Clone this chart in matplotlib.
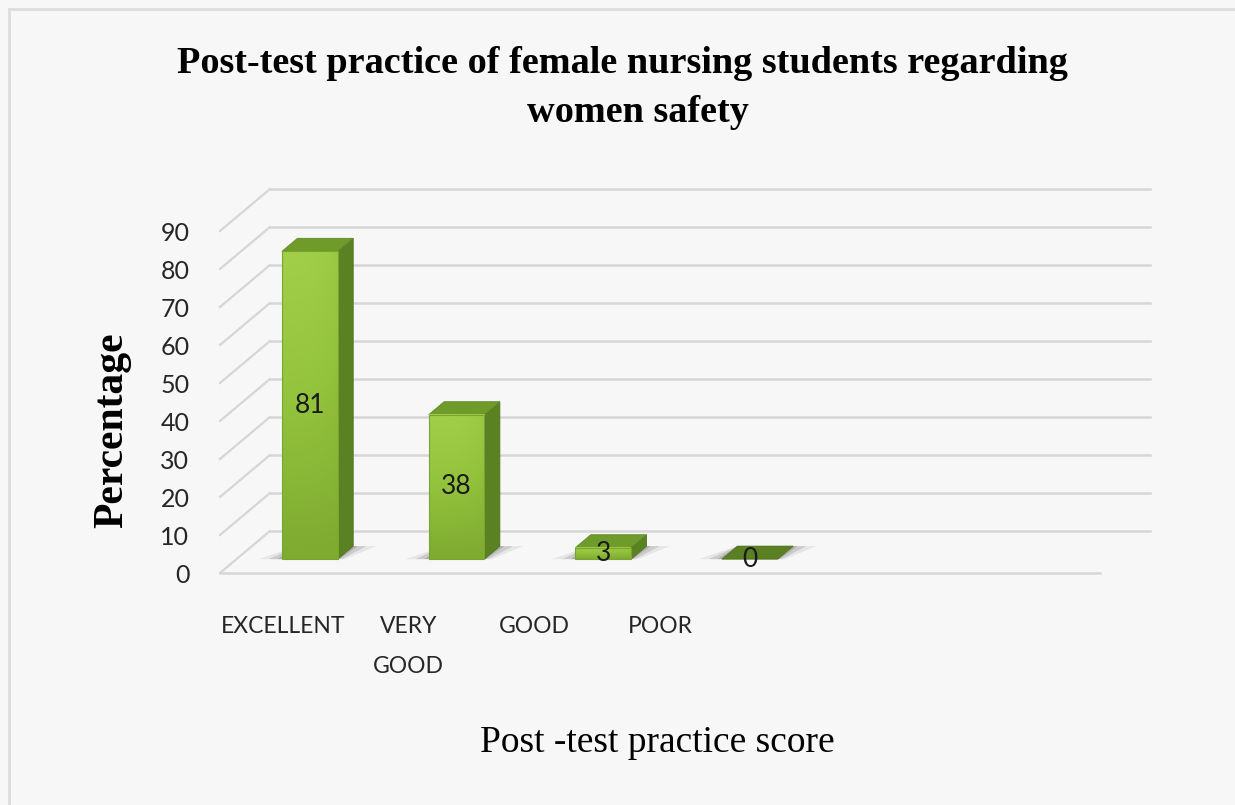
import numpy as np
import matplotlib
matplotlib.use("Agg")
import matplotlib.pyplot as plt
from matplotlib.patches import Polygon, Rectangle
from matplotlib.lines import Line2D
from matplotlib.colors import LinearSegmentedColormap

# chart data
categories = ["EXCELLENT", "VERY\nGOOD", "GOOD", "POOR"]
percentages = [81, 38, 3, 0]
y_ticks = list(range(0, 100, 10))

title_lines = ["Post-test practice of female nursing students regarding", "women safety"]
x_title = "Post -test practice score"
y_title = "Percentage"

# layout (pixels of the 1235x805 picture)
W, H = 1235, 805
FLOOR_L, FLOOR_R, FLOOR_Y = 220, 1100, 573
PX_PER_PCT = 3.8
DEPTH_DX, DEPTH_DY = 50, 42
N_SLOTS = 6          # bar slots across the floor
N_LABEL_SLOTS = 7    # category label slots (as in the source chart)
BAR_W = 0.38
Z_FRONT, Z_BACK = 0.33, 0.64

SLOT_PX = (FLOOR_R - FLOOR_L) / N_SLOTS
ZX = DEPTH_DX / SLOT_PX
ZY = DEPTH_DY / PX_PER_PCT


def proj(x, v, z):
    return (x + z * ZX, v + z * ZY)


SANS = ["Liberation Sans Narrow", "Lato", "DejaVu Sans"]
SERIF = ["Liberation Serif", "DejaVu Serif"]

fig = plt.figure(figsize=(W / 100, H / 100), dpi=100)
fig.patch.set_facecolor("#f7f7f7")
# outer frame (only top and left edges are visible in the source)
fig.lines.append(Line2D([9 / W, 9 / W], [0, 1 - 9 / H], transform=fig.transFigure,
                        color="#dddddd", lw=2))
fig.lines.append(Line2D([9 / W, 1], [1 - 9 / H, 1 - 9 / H], transform=fig.transFigure,
                        color="#dddddd", lw=2))

xmax = N_SLOTS + ZX + 0.02
ymax = max(y_ticks) + ZY + 1
ax = fig.add_axes([FLOOR_L / W, (H - FLOOR_Y) / H, xmax * SLOT_PX / W, ymax * PX_PER_PCT / H])
ax.set_xlim(0, xmax)
ax.set_ylim(0, ymax)
ax.patch.set_alpha(0)
for s in ax.spines.values():
    s.set_visible(False)

# back wall and side wall grid
grid_c = "#d6d6d6"
for v in y_ticks:
    p0, p1 = proj(0, v, 1), proj(N_SLOTS, v, 1)
    ax.plot([p0[0], p1[0]], [p0[1], p1[1]], color=grid_c, lw=1.8, zorder=1, clip_on=False)
    q0, q1 = proj(0, v, 0), proj(0, v, 1)
    ax.plot([q0[0], q1[0]], [q0[1], q1[1]], color=grid_c, lw=1.6, zorder=1, clip_on=False)
f0, f1 = proj(0, 0, 0), proj(N_SLOTS, 0, 0)
ax.plot([f0[0], f1[0]], [f0[1], f1[1]], color=grid_c, lw=1.8, zorder=1, clip_on=False)

front_cmap = LinearSegmentedColormap.from_list("front", ["#7eab30", "#93c23d", "#a2cf4a"])

for i, (cat, val) in enumerate(zip(categories, percentages)):
    x0 = i + 0.5 - BAR_W / 2
    x1 = x0 + BAR_W
    zo = 3 + i

    # soft floor shadow
    for grow, alpha in [(0.16, 0.10), (0.09, 0.18), (0.03, 0.25)]:
        shadow = [proj(x0 - grow, 0, Z_FRONT), proj(x1 + grow * 0.3, 0, Z_FRONT),
                  proj(x1 + grow, 0, Z_BACK), proj(x0, 0, Z_BACK)]
        ax.add_patch(Polygon(shadow, closed=True, facecolor="#555555", edgecolor="none",
                             alpha=alpha, zorder=2, clip_on=False))

    if val > 0:
        # right side face
        side = [proj(x1, 0, Z_FRONT), proj(x1, 0, Z_BACK), proj(x1, val, Z_BACK), proj(x1, val, Z_FRONT)]
        ax.add_patch(Polygon(side, closed=True, facecolor="#5a8122", edgecolor="#4f731d",
                             lw=0.6, zorder=zo, clip_on=False))
        # top face
        top = [proj(x0, val, Z_FRONT), proj(x1, val, Z_FRONT), proj(x1, val, Z_BACK), proj(x0, val, Z_BACK)]
        ax.add_patch(Polygon(top, closed=True, facecolor="#6f9b2b", edgecolor="#62892a",
                             lw=0.6, zorder=zo, clip_on=False))
        # front face with gradient
        fx0, fy0 = proj(x0, 0, Z_FRONT)
        fx1, fy1 = proj(x1, val, Z_FRONT)
        grad = np.linspace(0, 1, 64)[:, None] * np.ones((1, 16))
        grad = grad * (1 - 0.25 * np.linspace(0, 1, 16)[None, :] ** 3)
        ax.imshow(grad, extent=[fx0, fx1, fy0, fy1], origin="lower", cmap=front_cmap,
                  vmin=0, vmax=1, aspect="auto", zorder=zo + 0.1, interpolation="bilinear")
        ax.add_patch(Rectangle((fx0, fy0), fx1 - fx0, fy1 - fy0, facecolor="none",
                               edgecolor="#79a431", lw=0.8, zorder=zo + 0.2))
    else:
        top = [proj(x0, 0, Z_FRONT), proj(x1, 0, Z_FRONT), proj(x1, 0, Z_BACK), proj(x0, 0, Z_BACK)]
        ax.add_patch(Polygon(top, closed=True, facecolor="#5b7f23", edgecolor="#52741e",
                             lw=0.6, zorder=zo, clip_on=False))

    lx, ly = proj(i + 0.5, val / 2, Z_FRONT)
    ax.text(lx, ly, str(val), ha="center", va="center", fontsize=19, family=SANS,
            color="#1a1a1a", zorder=zo + 1, clip_on=False)

ax.set_xlim(0, xmax)
ax.set_ylim(0, ymax)

# axis tick labels
ax.set_yticks(y_ticks)
ax.set_yticklabels([str(t) for t in y_ticks], family=SANS, fontsize=18, color="#262626")
label_pos = [(i + 0.5) * N_SLOTS / N_LABEL_SLOTS for i in range(len(categories))]
ax.set_xticks(label_pos)
ax.set_xticklabels(categories, family=SANS, fontsize=16.5, color="#262626", linespacing=2.1)
ax.tick_params(axis="y", length=0, pad=22)
ax.tick_params(axis="x", length=0, pad=31)

# titles
fig.text(622 / W, 1 - 73 / H, title_lines[0], ha="center", va="baseline",
         family=SERIF, fontsize=27.5, fontweight="bold", color="black")
fig.text(638 / W, 1 - 122 / H, title_lines[1], ha="center", va="baseline",
         family=SERIF, fontsize=27.5, fontweight="bold", color="black")
fig.text(657 / W, 1 - 752 / H, x_title, ha="center", va="baseline",
         family=SERIF, fontsize=27, color="black")
fig.text(112 / W, 1 - 430 / H, y_title, ha="center", va="center", rotation=90,
         family=SERIF, fontsize=30, fontweight="bold", color="black")

fig.savefig("out.png", dpi=100, facecolor=fig.get_facecolor())
